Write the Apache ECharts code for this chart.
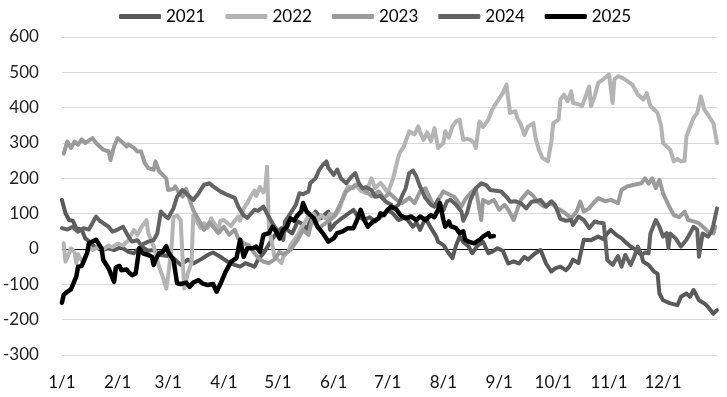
<!DOCTYPE html>
<html>
<head>
<meta charset="utf-8">
<script src="https://cdn.jsdelivr.net/npm/echarts@6/dist/echarts.min.js"></script>
<style>
html,body{margin:0;padding:0;background:#fff;}
#chart{width:727px;height:397px;}
</style>
</head>
<body>
<div id="chart"></div>
<script>
// Month lengths used to build the day-of-year category axis
const monthDays = [31,28,31,30,31,30,31,31,30,31,30,31];
const seriesNames = ['2021','2022','2023','2024','2025'];
const seriesColors = ['#595959','#b4b4b4','#9b9b9b','#636363','#000000'];
const yTicks = [-300,-200,-100,0,100,200,300,400,500,600];

// [day-of-year index, value]
const s2021 = [[0,139],[2,101],[4,82],[6,80],[8,59],[11,55],[13,30],[15,22],[18,7],[22,-3],[26,2],[29,-3],[33,5],[37,-8],[40,-12],[44,7],[48,-5],[51,-3],[55,-17],[59,-20],[62,-26],[66,-45],[70,-30],[73,-41],[77,-30],[81,-17],[84,-10],[88,-22],[92,-36],[96,-45],[99,-50],[102,-40],[107,-50],[109,-30],[112,-12],[116,21],[119,44],[122,59],[125,55],[128,44],[131,78],[134,70],[136,54],[138,80],[141,106],[144,87],[148,106],[149,54],[152,73],[155,85],[158,96],[162,111],[164,95],[168,82],[171,90],[174,78],[178,95],[181,111],[184,100],[187,82],[191,90],[195,63],[197,75],[199,54],[202,87],[205,60],[208,35],[209,21],[212,11],[215,-12],[217,-26],[219,10],[221,35],[223,20],[226,7],[228,-12],[231,10],[234,20],[237,-12],[239,-8],[242,2],[245,-5],[248,-41],[251,-35],[254,-41],[257,-22],[259,-30],[263,-12],[266,-3],[269,-41],[272,-64],[274,-55],[277,-50],[280,-60],[282,-50],[284,-30],[287,-40],[290,26],[291,30],[294,25],[298,35],[301,28],[303,44],[305,54],[308,40],[311,30],[313,20],[316,7],[319,-3],[322,-17],[323,-36],[326,-45],[329,-64],[331,-70],[332,-126],[334,-145],[338,-154],[342,-159],[344,-135],[347,-126],[349,-135],[351,-116],[354,-145],[357,-154],[359,-164],[362,-183],[364,-173]];

const s2022 = [[1,16],[2,-36],[4,-12],[5,2],[7,-10],[8,-40],[9,-15],[12,-41],[13,-20],[15,2],[17,-3],[20,5],[23,0],[26,10],[28,5],[31,15],[34,10],[37,25],[40,54],[42,40],[44,60],[47,82],[48,45],[51,7],[52,-12],[54,-50],[56,-78],[58,-112],[59,-78],[61,10],[62,90],[64,95],[66,82],[67,-20],[68,-112],[70,-69],[72,-40],[73,95],[76,70],[77,60],[79,73],[81,60],[83,87],[85,70],[87,54],[88,80],[90,82],[92,73],[94,65],[96,80],[98,92],[99,80],[101,115],[102,110],[103,130],[105,150],[107,165],[108,150],[110,175],[112,160],[113,170],[114,233],[115,60],[117,10],[118,-20],[120,-30],[122,-40],[123,-22],[126,-5],[127,10],[129,25],[131,40],[133,60],[135,75],[137,95],[140,100],[142,80],[144,95],[147,85],[149,100],[152,95],[154,111],[157,158],[159,177],[162,172],[163,182],[166,165],[169,158],[172,200],[174,172],[177,187],[179,175],[181,159],[183,185],[184,199],[187,262],[188,275],[190,290],[193,333],[196,324],[198,347],[199,330],[201,309],[203,330],[205,305],[207,342],[209,286],[212,300],[213,333],[215,315],[217,347],[219,361],[221,366],[223,309],[225,312],[227,309],[229,300],[230,286],[232,361],[234,345],[237,366],[239,394],[242,418],[245,442],[247,465],[249,385],[252,390],[253,371],[255,352],[257,323],[259,347],[262,356],[263,319],[265,281],[267,258],[270,248],[272,305],[273,356],[276,366],[277,423],[279,437],[281,418],[283,446],[284,413],[287,410],[289,404],[291,432],[293,460],[294,404],[296,432],[298,470],[301,481],[304,494],[306,413],[307,481],[309,489],[312,483],[314,476],[317,465],[320,437],[323,423],[325,441],[327,404],[329,395],[331,385],[333,347],[334,300],[336,290],[338,281],[340,248],[342,255],[344,248],[346,250],[347,319],[349,345],[351,371],[353,385],[355,432],[357,394],[359,380],[362,356],[364,300]];

const s2023 = [[1,270],[3,304],[5,286],[7,304],[9,295],[11,310],[13,300],[17,314],[19,300],[21,290],[23,281],[26,276],[27,252],[29,290],[31,314],[34,300],[36,290],[37,296],[40,286],[42,276],[44,276],[46,243],[48,229],[51,224],[52,248],[54,220],[56,210],[58,200],[59,167],[62,170],[63,177],[65,160],[67,148],[69,170],[72,124],[73,110],[76,82],[79,54],[82,75],[84,63],[87,45],[90,63],[93,40],[96,55],[98,30],[101,16],[104,10],[107,-12],[109,-25],[112,-36],[115,-40],[118,-30],[121,-8],[123,-15],[127,-3],[131,26],[134,54],[137,40],[139,82],[143,60],[147,75],[151,90],[154,120],[158,163],[162,177],[165,182],[169,163],[172,150],[176,163],[179,145],[182,158],[186,139],[189,130],[193,145],[196,130],[199,163],[202,172],[205,139],[207,120],[209,139],[212,163],[215,155],[218,148],[222,120],[224,140],[227,158],[230,172],[232,111],[233,82],[234,139],[237,130],[240,139],[243,111],[246,125],[248,111],[251,82],[255,139],[259,163],[262,150],[264,134],[268,120],[272,130],[275,115],[277,111],[280,100],[283,87],[286,106],[288,134],[290,106],[293,115],[296,134],[298,144],[302,135],[305,139],[309,130],[311,167],[314,177],[318,182],[322,186],[324,200],[326,185],[328,200],[330,172],[332,196],[334,158],[337,125],[340,96],[343,90],[346,106],[348,82],[351,78],[354,73],[357,59],[359,49],[362,44],[363,63]];

const s2024 = [[0,59],[3,55],[6,63],[9,49],[12,59],[15,55],[19,92],[21,80],[23,73],[26,63],[28,49],[31,55],[34,63],[37,35],[39,21],[42,25],[44,11],[48,21],[51,25],[53,44],[55,106],[57,95],[59,87],[62,115],[64,148],[67,167],[70,153],[73,139],[76,158],[79,182],[82,186],[84,177],[88,163],[92,153],[96,145],[98,120],[101,95],[103,88],[107,111],[109,108],[112,120],[114,100],[117,73],[120,49],[123,26],[124,78],[127,101],[130,125],[132,158],[134,155],[137,163],[138,186],[141,200],[143,224],[145,238],[147,248],[148,230],[151,210],[153,225],[155,200],[158,186],[161,205],[163,215],[165,186],[167,172],[169,175],[172,167],[174,148],[177,150],[180,134],[183,125],[184,115],[187,125],[189,150],[191,172],[193,215],[195,222],[197,205],[199,177],[202,144],[205,125],[207,120],[209,139],[212,110],[214,135],[216,139],[219,125],[222,106],[223,80],[225,100],[227,139],[230,172],[233,186],[236,180],[238,167],[241,165],[244,163],[247,148],[249,134],[252,135],[255,130],[258,115],[261,134],[263,135],[266,139],[269,120],[272,135],[274,125],[277,85],[280,80],[283,82],[284,68],[287,92],[290,82],[293,59],[296,78],[298,75],[301,73],[302,26],[303,-31],[306,-45],[309,-20],[311,-50],[313,-17],[316,-45],[318,-22],[320,7],[322,-17],[324,-10],[326,-12],[327,44],[330,82],[332,63],[334,35],[336,45],[337,2],[338,44],[341,30],[344,7],[347,26],[349,44],[351,63],[353,55],[354,-22],[356,44],[359,35],[361,50],[362,68],[364,115]];

const s2025 = [[0,-152],[1,-130],[3,-121],[5,-114],[6,-116],[8,-78],[9,-50],[11,-48],[14,-12],[15,16],[17,21],[19,26],[20,18],[22,2],[23,-31],[26,-55],[27,-60],[29,-93],[30,-52],[32,-48],[33,-60],[36,-58],[37,-65],[39,-74],[41,-69],[43,2],[45,-12],[48,-17],[50,-22],[51,-45],[52,-31],[54,-12],[56,-8],[58,8],[59,-8],[62,-31],[64,-97],[66,-99],[69,-95],[71,-107],[73,-95],[76,-88],[78,-97],[81,-102],[84,-99],[86,-121],[88,-100],[91,-64],[94,-36],[97,-26],[99,26],[101,-22],[103,2],[106,2],[108,7],[110,-8],[112,40],[115,45],[117,63],[119,50],[121,30],[123,54],[125,63],[127,87],[129,80],[131,96],[133,106],[134,130],[136,106],[138,96],[140,87],[142,63],[145,45],[148,21],[151,30],[153,45],[156,50],[159,59],[162,59],[164,82],[166,111],[168,82],[170,63],[173,78],[176,87],[177,101],[179,96],[181,111],[183,120],[186,111],[188,96],[191,87],[194,92],[197,82],[199,92],[202,82],[205,96],[207,90],[209,111],[210,130],[212,82],[213,63],[215,78],[216,65],[219,59],[221,45],[223,50],[224,26],[226,21],[229,16],[232,26],[234,35],[237,45],[238,35],[240,37]];

const seriesData = [s2021, s2022, s2023, s2024, s2025];

// Build categories "M/D" for each calendar day
const categories = [];
monthDays.forEach((n, m) => { for (let d = 1; d <= n; d++) categories.push((m + 1) + '/' + d); });

const FONT = 'Lato, "Open Sans", sans-serif';
const gridColor = '#d9d9d9';
const splitColors = yTicks.map(v => v === 0 ? '#000000' : gridColor);

const chart = echarts.init(document.getElementById('chart'), null, {renderer: 'canvas'});
chart.setOption({
  animation: false,
  backgroundColor: '#ffffff',
  grid: {left: 61, right: 10, top: 37, bottom: 42, containLabel: false},
  legend: {
    top: 3, left: 114,
    itemWidth: 42, itemHeight: 5, itemGap: 20,
    icon: 'roundRect',
    textStyle: {fontFamily: FONT, fontSize: 17, color: '#000'},
    data: seriesNames
  },
  xAxis: {
    type: 'category',
    data: categories,
    boundaryGap: false,
    axisLine: {show: false},
    axisTick: {show: false},
    splitLine: {show: false},
    axisLabel: {
      interval: (idx, val) => val.split('/')[1] === '1',
      fontFamily: FONT, fontSize: 17, color: '#111', margin: 19
    }
  },
  yAxis: {
    type: 'value',
    min: -300, max: 600, interval: 100,
    axisLine: {show: false},
    axisTick: {show: false},
    axisLabel: {fontFamily: FONT, fontSize: 17, color: '#222', margin: 23},
    splitLine: {show: true, lineStyle: {color: splitColors, width: 1}}
  },
  series: seriesNames.map((name, i) => ({
    name: name,
    type: 'line',
    data: seriesData[i],
    showSymbol: false,
    symbol: 'none',
    smooth: false,
    color: seriesColors[i],
    lineStyle: {width: i === 4 ? 4.5 : 4, color: seriesColors[i], join: 'round', cap: 'round'},
    z: 2 + i
  }))
});
</script>
</body>
</html>
